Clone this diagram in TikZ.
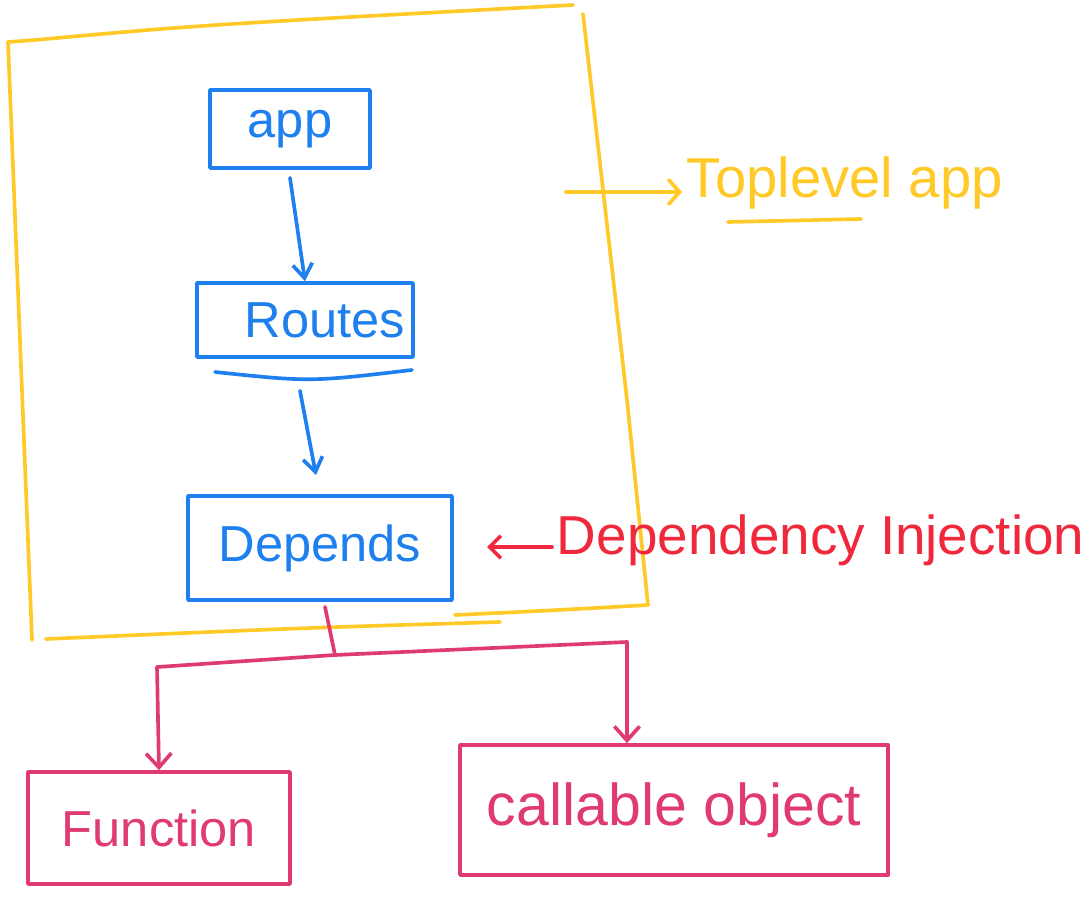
\documentclass[tikz,border=0pt]{standalone}
\usepackage{fontspec}
\setmainfont{Liberation Sans}
\usepackage{tikz}
\usetikzlibrary{arrows.meta}
\definecolor{frame}{HTML}{FFC928}
\definecolor{blue}{HTML}{1E7FEE}
\definecolor{red}{HTML}{F0283C}
\definecolor{pink}{HTML}{E03A72}
\tikzset{
  pen/.style={line width=2.6pt, line cap=round, line join=round},
  blueBox/.style={pen, draw=blue, text=blue, font=\fontsize{36}{40}\selectfont},
  pinkBox/.style={pen, draw=pink, text=pink, font=\fontsize{36}{40}\selectfont},
  blueLine/.style={pen, draw=blue, -{Straight Barb[length=10pt,width=14pt]}},
  pinkLine/.style={pen, draw=pink},
  pinkArrow/.style={pinkLine, -{Straight Barb[length=10pt,width=18pt]}},
  note/.style={font=\fontsize{40}{44}\selectfont}
}
\begin{document}
\begin{tikzpicture}[x=0.025cm, y=-0.025cm]
\useasboundingbox (0,0) rectangle (1088,898);

% outer frame
\draw[pen, draw=frame] (8,42) -- (35,40) .. controls (200,25) .. (573,5);
\draw[pen, draw=frame] (8,42) -- (32,640);
\draw[pen, draw=frame] (583,14) -- (627,400) -- (648,605);
\draw[pen, draw=frame] (46,639) .. controls (300,628) .. (500,622);
\draw[pen, draw=frame] (455,615) .. controls (560,610) .. (648,605);

% blue boxes
\node[blueBox, minimum width=4cm, minimum height=1.95cm] (app) at (290,129) {app};
\node[blueBox, minimum width=5.4cm, minimum height=1.85cm] (routes) at (305,320) {\hspace{1cm}Routes};
\node[blueBox, minimum width=6.6cm, minimum height=2.6cm] (depends) at (320,548) {Depends};
\draw[pen, draw=blue] (215,372) .. controls (310,382) .. (412,370);

\draw[blueLine] (app.south) ++(0,8) -- (routes.north);
\draw[blueLine] (routes.south) ++(-5,32) -- (316,475);

% pink boxes
\node[pinkBox, minimum width=6.55cm, minimum height=2.8cm] (function) at (159,828) {Function};
\node[pinkBox, minimum width=10.7cm, minimum height=3.25cm, font=\fontsize{42}{46}\selectfont] (callable) at (674,810) {callable object};

\coordinate (split) at (335,655);
\coordinate (leftTop) at (157,667);
\coordinate (rightTop) at (627,642);
\draw[pinkLine] (depends.south) ++(5,5) -- (split);
\draw[pinkLine] (leftTop) -- (split) -- (rightTop);
\draw[pinkArrow] (leftTop) -- (function.north);
\draw[pinkArrow] (rightTop) -- (callable.north -| rightTop);

% labels
\node[note, text=frame, anchor=west] (top) at (682,183) {Toplevel app};
\coordinate (frameOut) at (566,192);
\draw[pen, draw=frame, -{Straight Barb[length=8pt,width=18pt]}] (frameOut) -- (top.west |- frameOut);
\draw[pen, draw=frame] (728,222) -- (861,219);

\node[note, text=red, anchor=west, font=\fontsize{39}{43}\selectfont] (inject) at (552,540) {Dependency Injection};
\coordinate (injectTip) at (487,547);
\draw[pen, draw=red, -{Straight Barb[length=8pt,width=16pt]}] (inject.west |- injectTip) -- (injectTip);
\end{tikzpicture}
\end{document}
